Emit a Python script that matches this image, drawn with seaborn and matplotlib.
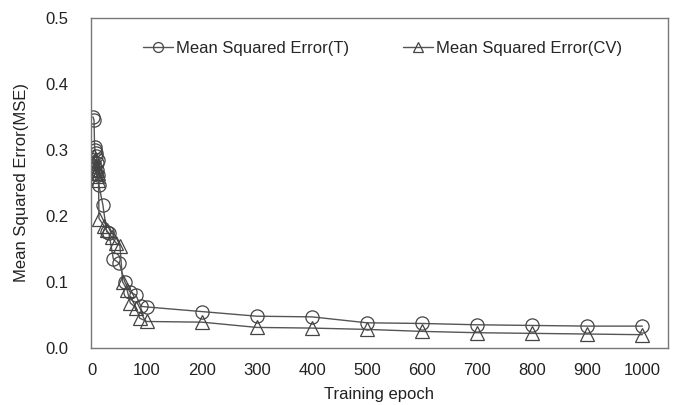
import pandas as pd
import seaborn as sns
import matplotlib.pyplot as plt
from matplotlib.ticker import FormatStrFormatter

# Data
epoch_t = [2, 4, 5, 6, 7, 8, 9, 10, 11, 12, 13, 20, 27, 31, 39, 50, 60, 69, 80, 89, 100,
           200, 300, 400, 500, 600, 700, 800, 900, 1000]
mse_t = [0.350, 0.345, 0.305, 0.300, 0.290, 0.295, 0.280, 0.270, 0.262, 0.285, 0.246,
         0.217, 0.176, 0.174, 0.135, 0.128, 0.100, 0.085, 0.080, 0.063, 0.062,
         0.055, 0.048, 0.047, 0.038, 0.037, 0.035, 0.034, 0.033, 0.033]

epoch_cv = [3, 4, 5, 6, 7, 8, 9, 10, 11, 12, 13, 22, 27, 36, 44, 51, 56, 64, 70, 80, 87, 100,
            200, 300, 400, 500, 600, 700, 800, 900, 1000]
mse_cv = [0.280, 0.290, 0.270, 0.285, 0.265, 0.275, 0.260, 0.270, 0.255, 0.265, 0.196,
          0.185, 0.178, 0.168, 0.159, 0.155, 0.100, 0.088, 0.068, 0.061, 0.045, 0.040,
          0.039, 0.031, 0.030, 0.028, 0.025, 0.023, 0.022, 0.021, 0.020]

sns.set_style("white")
plt.rcParams['font.family'] = ['Liberation Sans', 'DejaVu Sans']

fig = plt.figure(figsize=(6.77, 4.05), dpi=100)
ax = fig.add_axes([0.134, 0.141, 0.853, 0.815])

line_kw = dict(color='#555555', linewidth=1.0, markerfacecolor='none',
               markeredgecolor='#444444', markeredgewidth=0.9, markersize=9.5)

sns.lineplot(x=epoch_t, y=mse_t, ax=ax, marker='o', estimator=None, sort=False,
             label='Mean Squared Error(T)', **line_kw)
sns.lineplot(x=epoch_cv, y=mse_cv, ax=ax, marker='^', estimator=None, sort=False,
             label='Mean Squared Error(CV)', **line_kw)

ax.set_xlim(-2, 1047)
ax.set_ylim(0, 0.5)
ax.set_xticks(range(0, 1001, 100))
ax.set_yticks([0.0, 0.1, 0.2, 0.3, 0.4, 0.5])
ax.yaxis.set_major_formatter(FormatStrFormatter('%.1f'))
ax.tick_params(direction='in', length=4, color='#666666', labelsize=12,
               labelcolor='#222222')
ax.tick_params(axis='y', pad=16)
ax.tick_params(axis='x', pad=11)
for sp in ax.spines.values():
    sp.set_color('#777777')
    sp.set_linewidth(1.0)

ax.set_xlabel('Training epoch', fontsize=12, color='#222222', labelpad=6)
ax.set_ylabel('Mean Squared Error(MSE)', fontsize=12, color='#222222', labelpad=12)

ax.legend(loc='upper center', bbox_to_anchor=(0.505, 0.975), ncol=2, frameon=False,
          fontsize=12, handlelength=1.8, handletextpad=0.2, columnspacing=3.2,
          markerscale=0.75)

plt.savefig('out.png', dpi=100)
